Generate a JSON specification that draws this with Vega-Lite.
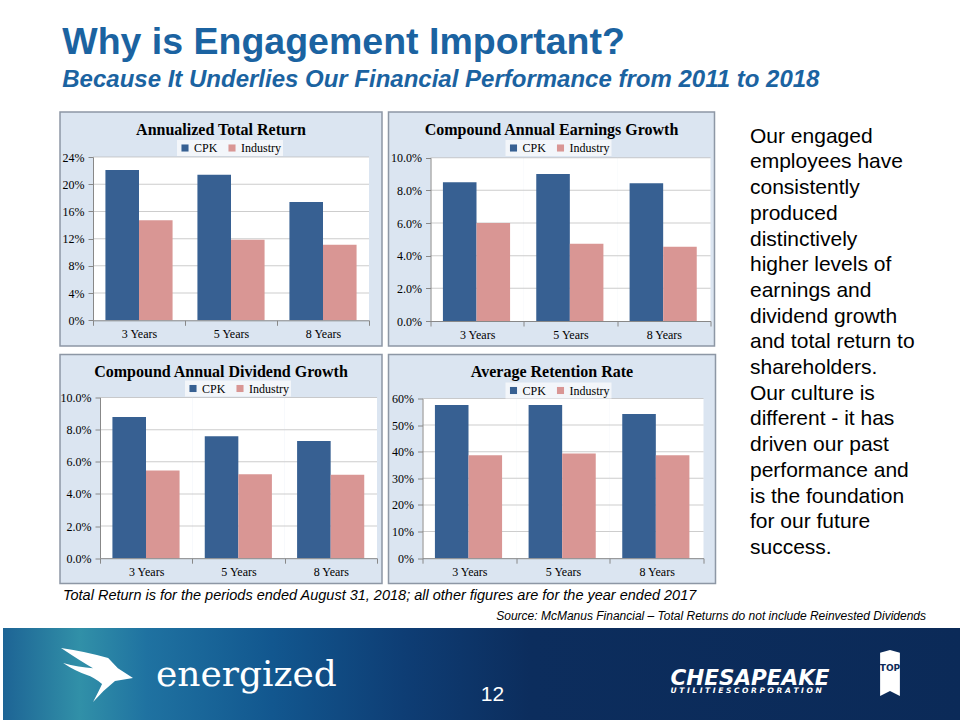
{
  "$schema": "https://vega.github.io/schema/vega-lite/v6.json",
  "padding": {"left": 0, "right": 0, "top": 23, "bottom": 0},
  "background": "white",
  "config": {"view": {"stroke": null}, "font": "Liberation Sans", "axis": {"labelOverlap": false}},
  "title": {
    "text": "Why is Engagement Important?",
    "subtitle": "Because It Underlies Our Financial Performance from 2011 to 2018",
    "anchor": "start", "dx": 62, "offset": 18,
    "font": "Liberation Sans", "fontSize": 37.5, "fontWeight": "bold", "color": "#1b63a1",
    "subtitleFont": "Liberation Sans", "subtitleFontSize": 24, "subtitleFontStyle": "italic",
    "subtitleFontWeight": "bold", "subtitleColor": "#1b63a1", "subtitlePadding": 6.5
  },
  "datasets": {
    "p1": [
      {"cat": "3 Years", "series": "CPK", "value": 0.221},
      {"cat": "3 Years", "series": "Industry", "value": 0.147},
      {"cat": "5 Years", "series": "CPK", "value": 0.214},
      {"cat": "5 Years", "series": "Industry", "value": 0.1185},
      {"cat": "8 Years", "series": "CPK", "value": 0.174},
      {"cat": "8 Years", "series": "Industry", "value": 0.111}
    ],
    "p2": [
      {"cat": "3 Years", "series": "CPK", "value": 0.0849},
      {"cat": "3 Years", "series": "Industry", "value": 0.060},
      {"cat": "5 Years", "series": "CPK", "value": 0.090},
      {"cat": "5 Years", "series": "Industry", "value": 0.0473},
      {"cat": "8 Years", "series": "CPK", "value": 0.0843},
      {"cat": "8 Years", "series": "Industry", "value": 0.0455}
    ],
    "p3": [
      {"cat": "3 Years", "series": "CPK", "value": 0.0878},
      {"cat": "3 Years", "series": "Industry", "value": 0.0546},
      {"cat": "5 Years", "series": "CPK", "value": 0.0759},
      {"cat": "5 Years", "series": "Industry", "value": 0.0523},
      {"cat": "8 Years", "series": "CPK", "value": 0.0730},
      {"cat": "8 Years", "series": "Industry", "value": 0.0519}
    ],
    "p4": [
      {"cat": "3 Years", "series": "CPK", "value": 0.576},
      {"cat": "3 Years", "series": "Industry", "value": 0.387},
      {"cat": "5 Years", "series": "CPK", "value": 0.576},
      {"cat": "5 Years", "series": "Industry", "value": 0.393},
      {"cat": "8 Years", "series": "CPK", "value": 0.542},
      {"cat": "8 Years", "series": "Industry", "value": 0.387}
    ],
    "g1": [
      {"g": 0.04, "cat": ["3 Years", "5 Years", "8 Years"]},
      {"g": 0.08, "cat": ["3 Years", "5 Years", "8 Years"]},
      {"g": 0.12, "cat": ["3 Years", "5 Years", "8 Years"]},
      {"g": 0.16, "cat": ["3 Years", "5 Years", "8 Years"]},
      {"g": 0.20, "cat": ["3 Years", "5 Years", "8 Years"]},
      {"g": 0.24, "cat": ["3 Years", "5 Years", "8 Years"]}
    ],
    "g2": [
      {"g": 0.02, "cat": ["3 Years", "5 Years", "8 Years"]},
      {"g": 0.04, "cat": ["3 Years", "5 Years", "8 Years"]},
      {"g": 0.06, "cat": ["3 Years", "5 Years", "8 Years"]},
      {"g": 0.08, "cat": ["3 Years", "5 Years", "8 Years"]},
      {"g": 0.10, "cat": ["3 Years", "5 Years", "8 Years"]}
    ],
    "g4": [
      {"g": 0.1, "cat": ["3 Years", "5 Years", "8 Years"]},
      {"g": 0.2, "cat": ["3 Years", "5 Years", "8 Years"]},
      {"g": 0.3, "cat": ["3 Years", "5 Years", "8 Years"]},
      {"g": 0.4, "cat": ["3 Years", "5 Years", "8 Years"]},
      {"g": 0.5, "cat": ["3 Years", "5 Years", "8 Years"]},
      {"g": 0.6, "cat": ["3 Years", "5 Years", "8 Years"]}
    ],
    "one": [{"b1": "energized", "b2": "TOP"}]
  },
  "spacing": 6,
  "resolve": {"scale": {"color": "independent", "shape": "independent"}, "legend": {"color": "independent", "shape": "independent"}},
  "vconcat": [
    {
      "spacing": 33,
      "resolve": {"scale": {"color": "independent"}, "legend": {"color": "independent"}},
      "title": {
        "text": "Total Return is for the periods ended August 31, 2018; all other figures are for the year ended 2017",
        "orient": "bottom", "anchor": "start", "offset": 5, "dx": 60,
        "font": "Liberation Sans", "fontSize": 14.5, "fontStyle": "italic",
        "fontWeight": "normal", "color": "#000000"
      },
      "hconcat": [
        {"width": 23, "height": 1, "data": {"name": "one"}, "mark": {"type": "point", "opacity": 0}},
        {
          "spacing": 6.5,
          "resolve": {"scale": {"color": "independent"}, "legend": {"color": "independent"}},
          "vconcat": [
            {
              "spacing": 4.5,
              "resolve": {"scale": {"color": "independent"}, "legend": {"color": "independent"}},
              "hconcat": [
                {
                  "width": 322, "height": 234,
                  "view": {"fill": "#dbe5f1", "stroke": "#8d97a5", "strokeWidth": 1.5},
                  "title": {"text": "Annualized Total Return", "offset": -26, "frame": "group", "anchor": "middle", "font": "Liberation Serif", "fontSize": 16, "fontWeight": "bold", "color": "#000000"},
                  "encoding": {
                    "x": {"field": "cat", "type": "nominal",
                      "scale": {"domain": ["3 Years", "5 Years", "8 Years"], "range": [33, 309], "paddingInner": 0, "paddingOuter": 0},
                      "axis": {"title": null, "offset": -25.7, "labelAngle": 0, "tickBand": "extent", "tickSize": 5, "tickColor": "#888888", "domainColor": "#888888", "labelFont": "Liberation Serif", "labelFontSize": 12, "labelColor": "#000000", "labelPadding": 3, "zindex": 1}}
                  },
                  "layer": [
                    {"data": {"name": "p1"}, "transform": [{"filter": "datum.series === 'CPK'"}],
                      "mark": {"type": "rect", "fill": "white"},
                      "encoding": {"y": {"datum": 0, "type": "quantitative"}, "y2": {"datum": 0.24}}},
                    {"data": {"name": "g1"}, "transform": [{"flatten": ["cat"]}],
                      "mark": {"type": "tick", "orient": "horizontal", "thickness": 1, "size": 92, "color": "#b8b8b8"},
                      "encoding": {"y": {"field": "g", "type": "quantitative"}}},
                    {"data": {"name": "p1"}, "mark": {"type": "bar"},
                      "encoding": {
                        "xOffset": {"field": "series", "type": "nominal", "scale": {"paddingInner": 0, "paddingOuter": 0.37}},
                        "y": {"field": "value", "type": "quantitative",
                          "scale": {"domain": [0, 0.24], "range": [208.3, 45], "nice": false, "zero": false},
                          "axis": {"title": null, "offset": -33, "values": [0, 0.04, 0.08, 0.12, 0.16, 0.2, 0.24], "tickCount": 20, "format": ".0%", "grid": false, "labelOverlap": false, "tickSize": 5, "tickColor": "#888888", "domainColor": "#888888", "labelFont": "Liberation Serif", "labelFontSize": 12, "labelColor": "#000000", "labelPadding": 4, "zindex": 1}},
                        "color": {"field": "series", "type": "nominal",
                          "scale": {"domain": ["CPK", "Industry"], "range": ["#376092", "#d99694"]},
                          "legend": {"title": null, "orient": "none", "legendX": 117, "legendY": 28, "direction": "horizontal", "symbolType": "square", "symbolSize": 50, "labelFont": "Liberation Serif", "labelFontSize": 12, "labelColor": "#000000", "fillColor": "#f3f6fa", "padding": 2, "columnPadding": 8, "labelOffset": 3}}
                      }}
                  ]
                },
                {
                  "width": 326, "height": 234,
                  "view": {"fill": "#dbe5f1", "stroke": "#8d97a5", "strokeWidth": 1.5},
                  "title": {"text": "Compound Annual Earnings Growth", "offset": -26, "frame": "group", "anchor": "middle", "font": "Liberation Serif", "fontSize": 16, "fontWeight": "bold", "color": "#000000"},
                  "encoding": {
                    "x": {"field": "cat", "type": "nominal",
                      "scale": {"domain": ["3 Years", "5 Years", "8 Years"], "range": [42, 322], "paddingInner": 0, "paddingOuter": 0},
                      "axis": {"title": null, "offset": -25, "labelAngle": 0, "tickBand": "extent", "tickSize": 5, "tickColor": "#888888", "domainColor": "#888888", "labelFont": "Liberation Serif", "labelFontSize": 12, "labelColor": "#000000", "labelPadding": 3, "zindex": 1}}
                  },
                  "layer": [
                    {"data": {"name": "p2"}, "transform": [{"filter": "datum.series === 'CPK'"}],
                      "mark": {"type": "rect", "fill": "white"},
                      "encoding": {"y": {"datum": 0, "type": "quantitative"}, "y2": {"datum": 0.1}}},
                    {"data": {"name": "g2"}, "transform": [{"flatten": ["cat"]}],
                      "mark": {"type": "tick", "orient": "horizontal", "thickness": 1, "size": 93.4, "color": "#b8b8b8"},
                      "encoding": {"y": {"field": "g", "type": "quantitative"}}},
                    {"data": {"name": "p2"}, "mark": {"type": "bar"},
                      "encoding": {
                        "xOffset": {"field": "series", "type": "nominal", "scale": {"paddingInner": 0, "paddingOuter": 0.37}},
                        "y": {"field": "value", "type": "quantitative",
                          "scale": {"domain": [0, 0.1], "range": [209, 45.7], "nice": false, "zero": false},
                          "axis": {"title": null, "offset": -42, "values": [0, 0.02, 0.04, 0.06, 0.08, 0.1], "tickCount": 20, "format": ".1%", "grid": false, "labelOverlap": false, "tickSize": 5, "tickColor": "#888888", "domainColor": "#888888", "labelFont": "Liberation Serif", "labelFontSize": 12, "labelColor": "#000000", "labelPadding": 4, "zindex": 1}},
                        "color": {"field": "series", "type": "nominal",
                          "scale": {"domain": ["CPK", "Industry"], "range": ["#376092", "#d99694"]},
                          "legend": {"title": null, "orient": "none", "legendX": 117, "legendY": 28, "direction": "horizontal", "symbolType": "square", "symbolSize": 50, "labelFont": "Liberation Serif", "labelFontSize": 12, "labelColor": "#000000", "fillColor": "#f3f6fa", "padding": 2, "columnPadding": 8, "labelOffset": 3}}
                      }}
                  ]
                }
              ]
            },
            {
              "spacing": 4.5,
              "resolve": {"scale": {"color": "independent"}, "legend": {"color": "independent"}},
              "hconcat": [
                {
                  "width": 322, "height": 229,
                  "view": {"fill": "#dbe5f1", "stroke": "#8d97a5", "strokeWidth": 1.5},
                  "title": {"text": "Compound Annual Dividend Growth", "offset": -25, "frame": "group", "anchor": "middle", "font": "Liberation Serif", "fontSize": 16, "fontWeight": "bold", "color": "#000000"},
                  "encoding": {
                    "x": {"field": "cat", "type": "nominal",
                      "scale": {"domain": ["3 Years", "5 Years", "8 Years"], "range": [40, 317], "paddingInner": 0, "paddingOuter": 0},
                      "axis": {"title": null, "offset": -25.3, "labelAngle": 0, "tickBand": "extent", "tickSize": 5, "tickColor": "#888888", "domainColor": "#888888", "labelFont": "Liberation Serif", "labelFontSize": 12, "labelColor": "#000000", "labelPadding": 3, "zindex": 1}}
                  },
                  "layer": [
                    {"data": {"name": "p3"}, "transform": [{"filter": "datum.series === 'CPK'"}],
                      "mark": {"type": "rect", "fill": "white"},
                      "encoding": {"y": {"datum": 0, "type": "quantitative"}, "y2": {"datum": 0.1}}},
                    {"data": {"name": "g2"}, "transform": [{"flatten": ["cat"]}],
                      "mark": {"type": "tick", "orient": "horizontal", "thickness": 1, "size": 92.4, "color": "#b8b8b8"},
                      "encoding": {"y": {"field": "g", "type": "quantitative"}}},
                    {"data": {"name": "p3"}, "mark": {"type": "bar"},
                      "encoding": {
                        "xOffset": {"field": "series", "type": "nominal", "scale": {"paddingInner": 0, "paddingOuter": 0.37}},
                        "y": {"field": "value", "type": "quantitative",
                          "scale": {"domain": [0, 0.1], "range": [203.7, 43], "nice": false, "zero": false},
                          "axis": {"title": null, "offset": -40, "values": [0, 0.02, 0.04, 0.06, 0.08, 0.1], "tickCount": 20, "format": ".1%", "grid": false, "labelOverlap": false, "tickSize": 5, "tickColor": "#888888", "domainColor": "#888888", "labelFont": "Liberation Serif", "labelFontSize": 12, "labelColor": "#000000", "labelPadding": 4, "zindex": 1}},
                        "color": {"field": "series", "type": "nominal",
                          "scale": {"domain": ["CPK", "Industry"], "range": ["#376092", "#d99694"]},
                          "legend": {"title": null, "orient": "none", "legendX": 125, "legendY": 26, "direction": "horizontal", "symbolType": "square", "symbolSize": 50, "labelFont": "Liberation Serif", "labelFontSize": 12, "labelColor": "#000000", "fillColor": "#f3f6fa", "padding": 2, "columnPadding": 8, "labelOffset": 3}}
                      }}
                  ]
                },
                {
                  "width": 327, "height": 229,
                  "view": {"fill": "#dbe5f1", "stroke": "#8d97a5", "strokeWidth": 1.5},
                  "title": {"text": "Average Retention Rate", "offset": -25, "frame": "group", "anchor": "middle", "font": "Liberation Serif", "fontSize": 16, "fontWeight": "bold", "color": "#000000"},
                  "encoding": {
                    "x": {"field": "cat", "type": "nominal",
                      "scale": {"domain": ["3 Years", "5 Years", "8 Years"], "range": [34, 315], "paddingInner": 0, "paddingOuter": 0},
                      "axis": {"title": null, "offset": -25.3, "labelAngle": 0, "tickBand": "extent", "tickSize": 5, "tickColor": "#888888", "domainColor": "#888888", "labelFont": "Liberation Serif", "labelFontSize": 12, "labelColor": "#000000", "labelPadding": 3, "zindex": 1}}
                  },
                  "layer": [
                    {"data": {"name": "p4"}, "transform": [{"filter": "datum.series === 'CPK'"}],
                      "mark": {"type": "rect", "fill": "white"},
                      "encoding": {"y": {"datum": 0, "type": "quantitative"}, "y2": {"datum": 0.6}}},
                    {"data": {"name": "g4"}, "transform": [{"flatten": ["cat"]}],
                      "mark": {"type": "tick", "orient": "horizontal", "thickness": 1, "size": 93.7, "color": "#b8b8b8"},
                      "encoding": {"y": {"field": "g", "type": "quantitative"}}},
                    {"data": {"name": "p4"}, "mark": {"type": "bar"},
                      "encoding": {
                        "xOffset": {"field": "series", "type": "nominal", "scale": {"paddingInner": 0, "paddingOuter": 0.37}},
                        "y": {"field": "value", "type": "quantitative",
                          "scale": {"domain": [0, 0.6], "range": [203.7, 44], "nice": false, "zero": false},
                          "axis": {"title": null, "offset": -34, "values": [0, 0.1, 0.2, 0.3, 0.4, 0.5, 0.6], "tickCount": 20, "format": ".0%", "grid": false, "labelOverlap": false, "tickSize": 5, "tickColor": "#888888", "domainColor": "#888888", "labelFont": "Liberation Serif", "labelFontSize": 12, "labelColor": "#000000", "labelPadding": 4, "zindex": 1}},
                        "color": {"field": "series", "type": "nominal",
                          "scale": {"domain": ["CPK", "Industry"], "range": ["#376092", "#d99694"]},
                          "legend": {"title": null, "orient": "none", "legendX": 117, "legendY": 28, "direction": "horizontal", "symbolType": "square", "symbolSize": 50, "labelFont": "Liberation Serif", "labelFontSize": 12, "labelColor": "#000000", "fillColor": "#f3f6fa", "padding": 2, "columnPadding": 8, "labelOffset": 3}}
                      }}
                  ]
                }
              ]
            }
          ]
        },
        {
          "width": 173, "height": 1, "data": {"name": "one"}, "mark": {"type": "point", "opacity": 0},
          "title": {
            "text": ["Our engaged", "employees have", "consistently", "produced", "distinctively", "higher levels of", "earnings and", "dividend growth", "and total return to", "shareholders.", "Our culture is", "different - it has", "driven our past", "performance and", "is the foundation", "for our future", "success."],
            "orient": "bottom", "anchor": "start", "frame": "group", "offset": 10.5,
            "font": "Liberation Sans", "fontSize": 21, "fontWeight": "normal", "color": "#000000", "lineHeight": 25.7
          }
        }
      ]
    },
    {
      "width": 960, "height": 93,
      "data": {"name": "one"},
      "title": {
        "text": "Source: McManus Financial – Total Returns do not include Reinvested Dividends",
        "orient": "top", "anchor": "end", "frame": "group", "dx": -37, "offset": 3,
        "font": "Liberation Sans", "fontSize": 12, "fontStyle": "italic", "fontWeight": "normal", "color": "#000000"
      },
      "resolve": {"scale": {"x": "independent", "color": "independent", "shape": "independent"}, "axis": {"x": "independent"}, "legend": {"color": "independent", "shape": "independent"}},
      "layer": [
        {"mark": {"type": "rect", "fill": {"gradient": "linear", "x1": 0, "y1": 0, "x2": 1, "y2": 0,
          "stops": [
            {"offset": 0, "color": "#1d6495"},
            {"offset": 0.08, "color": "#3190a8"},
            {"offset": 0.15, "color": "#1f72a1"},
            {"offset": 0.28, "color": "#12578f"},
            {"offset": 0.42, "color": "#0e3d74"},
            {"offset": 0.55, "color": "#0c2d5d"},
            {"offset": 1, "color": "#0b2a58"}]}},
          "encoding": {}},
        {"mark": {"type": "point", "opacity": 0},
          "encoding": {
            "x": {"datum": 0, "type": "quantitative",
              "axis": {"orient": "top", "title": "U T I L I T I E S   C O R P O R A T I O N", "titleX": 667, "titleY": 64, "titleAlign": "left", "titleBaseline": "alphabetic", "titleFont": "DejaVu Sans", "titleFontSize": 7.5, "titleFontWeight": "bold", "titleFontStyle": "italic", "titleColor": "white", "labels": false, "ticks": false, "domain": false, "grid": false, "zindex": 1}}
          }},
        {"mark": {"type": "point", "opacity": 0, "filled": true, "color": "white"},
          "encoding": {
            "x": {"datum": 0, "type": "quantitative",
              "axis": {"orient": "bottom", "title": "12", "titleX": 489, "titleY": -21, "titleAlign": "center", "titleBaseline": "alphabetic", "titleFont": "Liberation Sans", "titleFontSize": 21, "titleFontWeight": "normal", "titleColor": "white", "labels": false, "ticks": false, "domain": false, "grid": false, "zindex": 1}},
            "y": {"datum": 0, "type": "quantitative",
              "axis": {"title": "CHESAPEAKE", "titleAngle": 0, "titleX": 667, "titleY": 56, "titleAlign": "left", "titleBaseline": "alphabetic", "titleFont": "DejaVu Sans", "titleFontSize": 21.5, "titleFontWeight": "bold", "titleFontStyle": "italic", "titleColor": "white", "labels": false, "ticks": false, "domain": false, "grid": false, "zindex": 1}},
            "shape": {"field": "b1", "type": "nominal",
              "scale": {"range": ["M-1,-0.75 Q-0.3,-0.65 0.31,-0.47 L0.58,-0.19 L1,0.08 L0.5,0.17 Q0.15,0.45 -0.11,0.75 Q0.05,0.45 0.14,0.25 Q-0.1,0.05 -0.28,0 Q-0.6,-0.1 -0.94,-0.33 Q-0.5,-0.2 -0.11,-0.19 Q-0.4,-0.35 -1,-0.75 Z"]},
              "legend": {"title": null, "orient": "none", "legendX": 58, "legendY": 11, "padding": 0, "symbolSize": 5184, "symbolFillColor": "white", "symbolStrokeWidth": 0, "labelFont": "DejaVu Serif", "labelFontSize": 36, "labelColor": "white", "labelOffset": 23, "labelLimit": 500}},
            "color": {"field": "b2", "type": "nominal",
              "scale": {"range": ["white"]},
              "legend": {"title": null, "orient": "none", "legendX": 864, "legendY": 22, "padding": 0, "symbolType": "M-0.43,-0.88 L0,-1 L0.43,-0.88 L0.43,1 L0,0.78 L-0.43,1 Z", "symbolSize": 2116, "symbolStrokeWidth": 0, "labelFont": "DejaVu Sans", "labelFontWeight": "bold", "labelFontSize": 9, "labelColor": "#0c2a58", "labelOffset": -23, "labelAlign": "center", "labelBaseline": "bottom", "labelLimit": 500}}
          }}
      ]
    }
  ]
}
